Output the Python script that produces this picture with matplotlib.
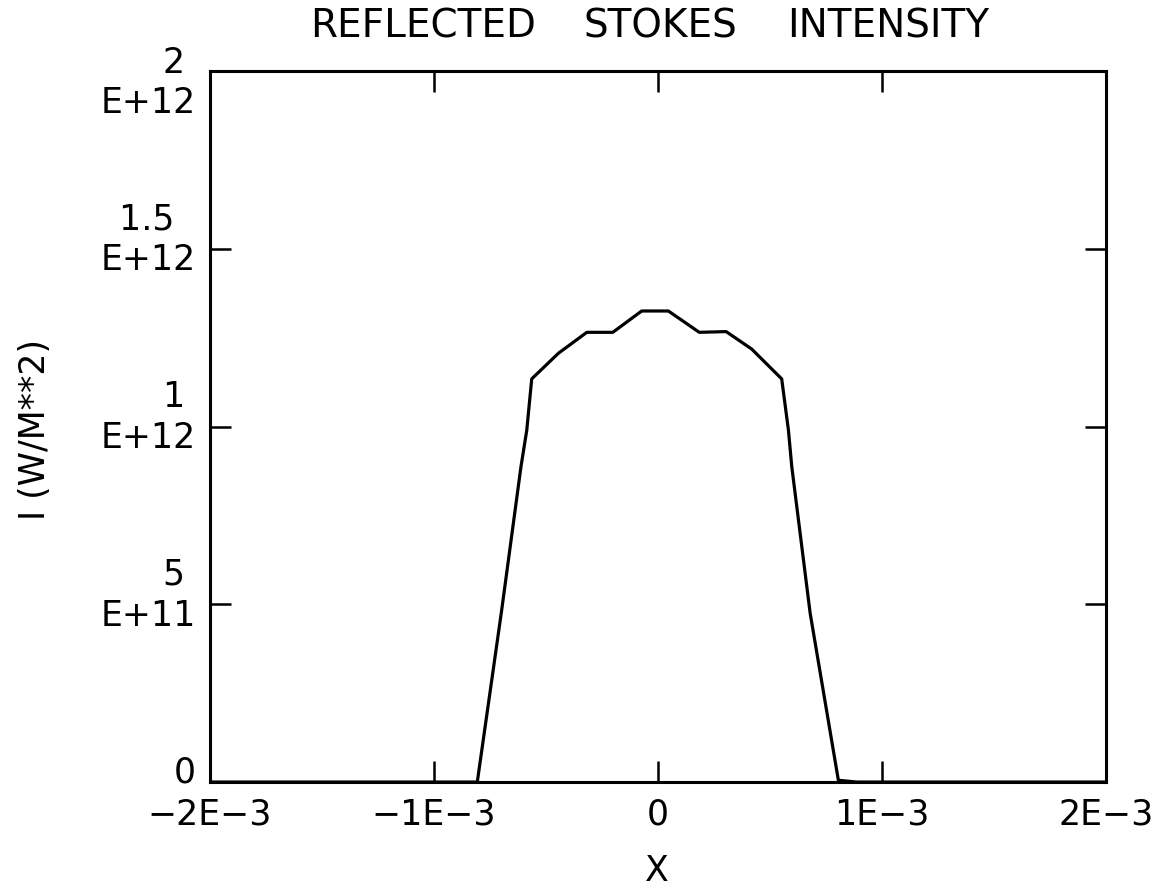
import matplotlib
matplotlib.use("Agg")
import matplotlib.pyplot as plt
from matplotlib.transforms import offset_copy

# reflected Stokes intensity profile
x_pos = [-2.0e-3, -0.90e-3, -0.807e-3, -0.698e-3, -0.612e-3, -0.586e-3, -0.564e-3,
         -0.445e-3, -0.318e-3, -0.202e-3, -0.073e-3, 0.046e-3, 0.184e-3, 0.304e-3,
         0.418e-3, 0.552e-3, 0.582e-3, 0.597e-3, 0.679e-3, 0.805e-3, 0.887e-3, 2.0e-3]
intensity = [0.0, 0.0, 0.0, 0.484e12, 0.887e12, 0.99e12, 1.134e12,
             1.206e12, 1.265e12, 1.265e12, 1.325e12, 1.325e12, 1.265e12, 1.267e12,
             1.218e12, 1.134e12, 0.99e12, 0.887e12, 0.475e12, 0.005e12, 0.0, 0.0]

x_ticks = [-2e-3, -1e-3, 0, 1e-3, 2e-3]
x_ticklabels = ["\u22122E\u22123", "\u22121E\u22123", "0", "1E\u22123", "2E\u22123"]
y_ticks = [0, 0.5e12, 1.0e12, 1.5e12, 2.0e12]
y_ticklabels = ["0", "5 \nE+11", "1 \nE+12", "1.5  \nE+12", "2 \nE+12"]
title_words = ["REFLECTED", "STOKES", "INTENSITY"]

plt.rcParams['font.family'] = ['DejaVu Sans']
FS = 25

fig = plt.figure(figsize=(11.65, 8.9), dpi=100)
ax = fig.add_axes([0.1803, 0.1213, 0.7691, 0.7989])

ax.plot(x_pos, intensity, color='black', linewidth=2.3)

ax.set_xlim(-2e-3, 2e-3)
ax.set_ylim(0, 2e12)
ax.set_xticks(x_ticks)
ax.set_xticklabels(x_ticklabels)
ax.set_yticks(y_ticks)
ax.set_yticklabels([])

ax.tick_params(axis='both', direction='in', length=15, width=1.8,
               top=True, right=True)
ax.tick_params(axis='x', labelsize=FS, pad=11)
for sp in ax.spines.values():
    sp.set_linewidth(2.2)

# two-line y tick labels, drawn by hand so they sit like the plotter output
for val, lab in zip(y_ticks, y_ticklabels):
    dy = -12 if val == y_ticks[-1] else 9
    if val == 0:
        dy = 10
    tr = offset_copy(ax.get_yaxis_transform(), fig=fig, x=-14, y=dy, units='dots')
    ax.text(0, val, lab, transform=tr, ha='right', va='center',
            multialignment='right', fontsize=FS, linespacing=1.25)

# plotter title has wide letter/word spacing, so set the words apart
for cx, word in zip([423, 660, 888], title_words):
    fig.text(cx / 1165, 1 - 27 / 890, word, ha='center', va='center', fontsize=28)
fig.text(657 / 1165, 1 - 871 / 890, "X", ha='center', va='center', fontsize=FS)
fig.text(35 / 1165, 1 - 430 / 890, "I (W/M**2)", ha='center', va='center',
         rotation=90, fontsize=FS)

fig.savefig("out.png", dpi=100)
